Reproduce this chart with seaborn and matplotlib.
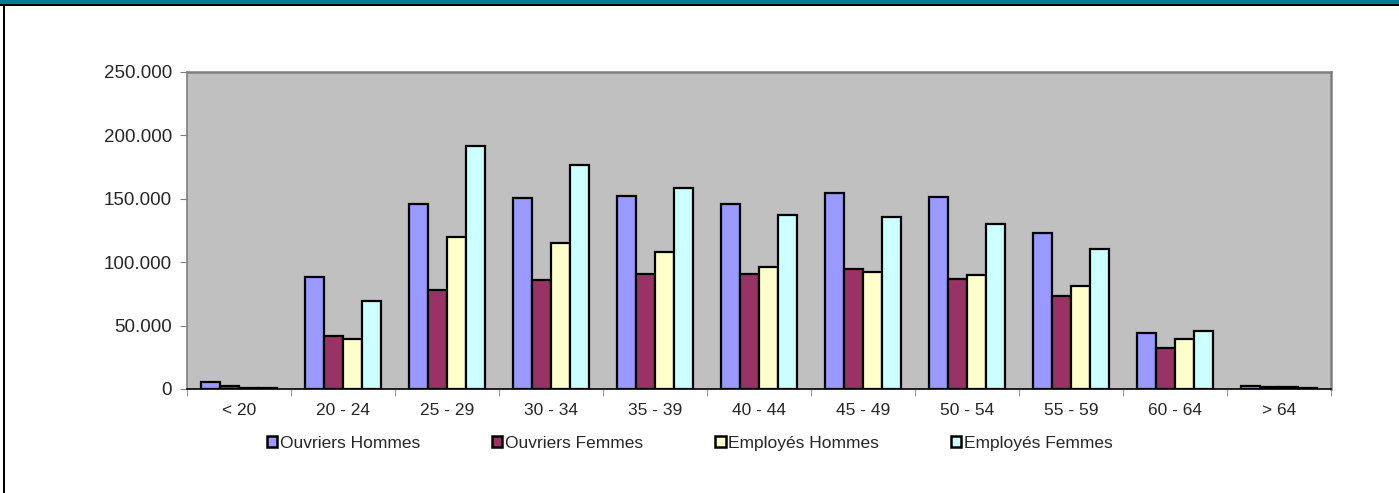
import matplotlib
matplotlib.use("Agg")
import matplotlib.pyplot as plt
import matplotlib.ticker as mticker
from matplotlib.patches import Rectangle
import numpy as np
import pandas as pd
import seaborn as sns

# age classes and the four series
AGE_GROUPS = ['< 20', '20 - 24', '25 - 29', '30 - 34', '35 - 39', '40 - 44',
              '45 - 49', '50 - 54', '55 - 59', '60 - 64', '> 64']
SERIES = ['Ouvriers Hommes', 'Ouvriers Femmes', 'Employés Hommes', 'Employés Femmes']

ouvriers_hommes = [5500, 88300, 145900, 150600, 152400, 145900, 154800, 151700, 123300, 44000, 2600]
ouvriers_femmes = [2400, 42000, 77800, 85700, 90900, 90900, 94600, 87000, 73300, 32600, 1500]
employes_hommes = [1000, 39700, 119600, 115400, 108000, 96000, 92000, 89900, 81200, 39700, 1200]
employes_femmes = [800, 69200, 191400, 176400, 158800, 137000, 135400, 130400, 110400, 45800, 1000]

COLORS = ['#9999FF', '#993366', '#FFFFCC', '#CCFFFF']

df = pd.DataFrame({
    'age': AGE_GROUPS * 4,
    'serie': np.repeat(SERIES, len(AGE_GROUPS)),
    'effectif': ouvriers_hommes + ouvriers_femmes + employes_hommes + employes_femmes,
})

sns.set_style("white")
plt.rcParams['font.family'] = ['Liberation Sans', 'DejaVu Sans']

fig = plt.figure(figsize=(13.99, 4.93), dpi=100)
ax = fig.add_axes([0.1337, 0.211, 0.9514 - 0.1337, 0.854 - 0.211])

sns.barplot(data=df, x='age', y='effectif', hue='serie', order=AGE_GROUPS,
            hue_order=SERIES, palette=COLORS, saturation=1, width=0.73,
            edgecolor='black', linewidth=1.6, ax=ax)

ax.set_facecolor('#C0C0C0')
ax.set_xlim(-0.5, len(AGE_GROUPS) - 0.5)
ax.set_ylim(0, 250000)
ax.yaxis.set_major_locator(mticker.MultipleLocator(50000))
ax.yaxis.set_major_formatter(mticker.FuncFormatter(
    lambda v, p: f"{int(v):,}".replace(',', '.')))
ax.set_xlabel('')
ax.set_ylabel('')

# tick marks between the groups, labels in the middle
ax.set_xticks(np.arange(-0.5, len(AGE_GROUPS)), minor=True)
ax.tick_params(axis='x', which='major', length=0, pad=10, labelsize=12.5)
ax.tick_params(axis='x', which='minor', length=5, color='#808080', direction='out')
ax.tick_params(axis='y', length=5, color='#808080', direction='out', labelsize=13.5, pad=6)
ax.xaxis.set_ticks_position('bottom')
ax.yaxis.set_ticks_position('left')

for side in ['top', 'right', 'left']:
    ax.spines[side].set_color('#808080')
    ax.spines[side].set_linewidth(1.8)
ax.spines['left'].set_linewidth(1.2)
ax.spines['bottom'].set_color('black')
ax.spines['bottom'].set_linewidth(1.2)

handles, labels = ax.get_legend_handles_labels()
leg = ax.legend(handles, labels, loc='center', bbox_to_anchor=(0.493, 0.101),
                bbox_transform=fig.transFigure, ncol=4, frameon=False, fontsize=12.5,
                handlelength=0.6, handleheight=0.6, handletextpad=0.15, columnspacing=4.15)
for h in leg.legend_handles:
    h.set_linewidth(1.8)
    h.set_edgecolor('black')

# header band and frame lines of the original sheet
fig.add_artist(Rectangle((0, 1 - 4.5 / 493), 1, 4.5 / 493, transform=fig.transFigure,
                         facecolor='#007B96', edgecolor='none'))
fig.add_artist(Rectangle((0, 1 - 6.2 / 493), 1, 1.8 / 493, transform=fig.transFigure,
                         facecolor='black', edgecolor='none'))
fig.add_artist(Rectangle((3 / 1399, 0), 1.8 / 1399, 1 - 4.5 / 493, transform=fig.transFigure,
                         facecolor='black', edgecolor='none'))

fig.savefig('out.png', dpi=100)
